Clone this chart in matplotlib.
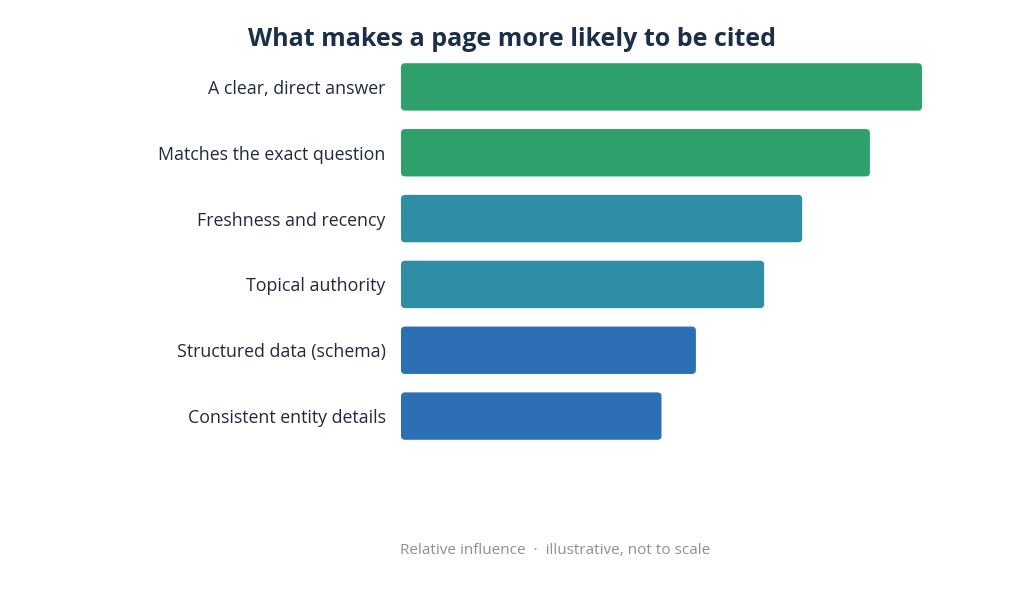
import matplotlib
matplotlib.use("Agg")
import matplotlib.pyplot as plt
from matplotlib.patches import FancyBboxPatch

plt.rcParams['font.family'] = ['Open Sans', 'DejaVu Sans']

# data
factors = ["A clear, direct answer", "Matches the exact question", "Freshness and recency",
           "Topical authority", "Structured data (schema)", "Consistent entity details"]
influence = [100, 90, 77, 69.7, 56.6, 50]
bar_colors = ["#2EA06C", "#2EA06C", "#2F8EA6", "#2F8EA6", "#2D6FB4", "#2D6FB4"]

fig = plt.figure(figsize=(10.24, 5.96), dpi=100)
ax = fig.add_axes([401/1024, 1 - 449/596, (922 - 401)/1024, (449 - 54)/596])

y = list(range(len(factors)))
bars = ax.barh(y, influence, height=0.72, color=bar_colors)
ax.set_xlim(0, 100)
ax.set_ylim(len(factors) - 0.5, -0.5)

# swap plain bars for rounded ones
for b, c in zip(bars, bar_colors):
    b.set_visible(False)
    x0, y0 = b.get_x(), b.get_y()
    w, h = b.get_width(), b.get_height()
    p = FancyBboxPatch((x0, y0), w, h, boxstyle="round,pad=0,rounding_size=0.8",
                       mutation_aspect=0.075, facecolor=c, edgecolor="none")
    ax.add_patch(p)

ax.set_yticks(y)
ax.set_yticklabels(factors, fontsize=12.8, color="#1F2A3C")
ax.tick_params(axis='y', length=0, pad=11)
ax.set_xticks([])
for s in ax.spines.values():
    s.set_visible(False)

fig.text(512/1024, 1 - 40/596, "What makes a page more likely to be cited", ha='center', va='center',
         fontsize=18, fontweight='bold', color="#1B2F4A")
fig.text(555/1024, 1 - 551/596, "Relative influence  \u00b7  illustrative, not to scale", ha='center',
         va='center', fontsize=11, color="#8A8F99")

fig.savefig("out.png", dpi=100)
